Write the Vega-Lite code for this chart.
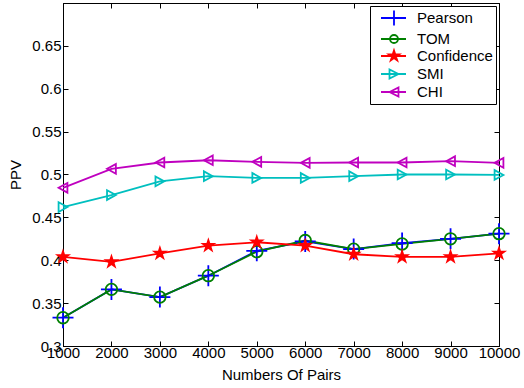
{
  "$schema": "https://vega.github.io/schema/vega-lite/v6.json",
  "width": 436,
  "height": 343,
  "autosize": {"type": "none"},
  "padding": {"left": 63, "top": 3, "right": 25, "bottom": 42},
  "config": {
    "font": "Liberation Sans",
    "view": {"stroke": "#000", "strokeWidth": 1},
    "axis": {"grid": false, "domainColor": "#000", "tickColor": "#000", "labelColor": "#000", "titleColor": "#000", "labelFont": "Liberation Sans", "titleFont": "Liberation Sans", "labelFontSize": 15, "titleFontSize": 15, "titleFontWeight": "normal", "tickSize": -5, "labelFlush": false, "labelOverlap": false},
    "legend": {"title": null, "orient": "top-right", "offset": 3, "strokeColor": "#000", "fillColor": "#fff", "padding": 3, "labelFontSize": 15, "labelFont": "Liberation Sans", "labelColor": "#000", "labelOffset": 26, "rowPadding": -1, "cornerRadius": 0, "symbolSize": 256, "symbolStrokeWidth": 1.8}
  },
  "data": {"values": [
    {"x": 1000, "series": "Pearson", "v": 0.333},
    {"x": 2000, "series": "Pearson", "v": 0.366},
    {"x": 3000, "series": "Pearson", "v": 0.357},
    {"x": 4000, "series": "Pearson", "v": 0.382},
    {"x": 5000, "series": "Pearson", "v": 0.411},
    {"x": 6000, "series": "Pearson", "v": 0.422},
    {"x": 7000, "series": "Pearson", "v": 0.413},
    {"x": 8000, "series": "Pearson", "v": 0.420},
    {"x": 9000, "series": "Pearson", "v": 0.425},
    {"x": 10000, "series": "Pearson", "v": 0.431},
    {"x": 1000, "series": "TOM", "v": 0.333},
    {"x": 2000, "series": "TOM", "v": 0.366},
    {"x": 3000, "series": "TOM", "v": 0.357},
    {"x": 4000, "series": "TOM", "v": 0.382},
    {"x": 5000, "series": "TOM", "v": 0.410},
    {"x": 6000, "series": "TOM", "v": 0.423},
    {"x": 7000, "series": "TOM", "v": 0.413},
    {"x": 8000, "series": "TOM", "v": 0.419},
    {"x": 9000, "series": "TOM", "v": 0.425},
    {"x": 10000, "series": "TOM", "v": 0.431},
    {"x": 1000, "series": "Confidence", "v": 0.404},
    {"x": 2000, "series": "Confidence", "v": 0.398},
    {"x": 3000, "series": "Confidence", "v": 0.408},
    {"x": 4000, "series": "Confidence", "v": 0.417},
    {"x": 5000, "series": "Confidence", "v": 0.421},
    {"x": 6000, "series": "Confidence", "v": 0.417},
    {"x": 7000, "series": "Confidence", "v": 0.407},
    {"x": 8000, "series": "Confidence", "v": 0.404},
    {"x": 9000, "series": "Confidence", "v": 0.404},
    {"x": 10000, "series": "Confidence", "v": 0.408},
    {"x": 1000, "series": "SMI", "v": 0.462},
    {"x": 2000, "series": "SMI", "v": 0.476},
    {"x": 3000, "series": "SMI", "v": 0.492},
    {"x": 4000, "series": "SMI", "v": 0.498},
    {"x": 5000, "series": "SMI", "v": 0.496},
    {"x": 6000, "series": "SMI", "v": 0.496},
    {"x": 7000, "series": "SMI", "v": 0.498},
    {"x": 8000, "series": "SMI", "v": 0.500},
    {"x": 9000, "series": "SMI", "v": 0.500},
    {"x": 10000, "series": "SMI", "v": 0.4995},
    {"x": 1000, "series": "CHI", "v": 0.4845},
    {"x": 2000, "series": "CHI", "v": 0.5066},
    {"x": 3000, "series": "CHI", "v": 0.514},
    {"x": 4000, "series": "CHI", "v": 0.5166},
    {"x": 5000, "series": "CHI", "v": 0.5148},
    {"x": 6000, "series": "CHI", "v": 0.5136},
    {"x": 7000, "series": "CHI", "v": 0.514},
    {"x": 8000, "series": "CHI", "v": 0.514},
    {"x": 9000, "series": "CHI", "v": 0.5155},
    {"x": 10000, "series": "CHI", "v": 0.5136}
  ]},
  "layer": [
    {
      "mark": {"type": "line", "strokeWidth": 1.8},
      "encoding": {
        "x": {"field": "x", "type": "quantitative", "scale": {"domain": [1000, 10000], "nice": false, "zero": false},
              "axis": {"orient": "bottom", "title": "Numbers Of Pairs", "values": [1000,2000,3000,4000,5000,6000,7000,8000,9000,10000], "format": "d", "labelPadding": 4, "titlePadding": 7}},
        "y": {"field": "v", "type": "quantitative", "scale": {"domain": [0.3, 0.7], "nice": false, "zero": false},
              "axis": {"orient": "left", "title": "PPV", "values": [0.3,0.35,0.4,0.45,0.5,0.55,0.6,0.65], "format": "~g", "labelPadding": 7, "titlePadding": 8}},
        "color": {"field": "series", "type": "nominal", "scale": {"domain": ["Pearson","TOM","Confidence","SMI","CHI"], "range": ["#0000ff","#008000","#ff0000","#00bfbf","#bf00bf"]}, "legend": null}
      }
    },
    {
      "mark": {"type": "point", "filled": false, "strokeWidth": 1.8, "size": 441, "opacity": 1},
      "encoding": {
        "x": {"field": "x", "type": "quantitative", "axis": null},
        "y": {"field": "v", "type": "quantitative", "axis": null},
        "color": {"field": "series", "type": "nominal", "scale": {"domain": ["Pearson","TOM","Confidence","SMI","CHI"], "range": ["#0000ff","#008000","#ff0000","#00bfbf","#bf00bf"]}, "legend": null},
        "fill": {"condition": {"test": "datum.series === 'Confidence'", "value": "#ff0000"}, "value": "transparent"},
        "shape": {"field": "series", "type": "nominal", "legend": null,
                  "scale": {"domain": ["Pearson","TOM","Confidence","SMI","CHI"],
                            "range": ["M-1,0L1,0M0,-1L0,1",
                                      "M-0.55,0A0.55,0.55 0 1,0 0.55,0A0.55,0.55 0 1,0 -0.55,0Z",
                                      "M0,-0.53L0.119,-0.164L0.504,-0.164L0.193,0.062L0.312,0.429L0,0.203L-0.312,0.429L-0.193,0.062L-0.504,-0.164L-0.119,-0.164Z",
                                      "M0.42,0L-0.42,-0.46L-0.42,0.46Z",
                                      "M-0.42,0L0.42,-0.46L0.42,0.46Z"]}}
      }
    },
    {
      "transform": [{"filter": "false"}],
      "mark": {"type": "point", "filled": false, "strokeWidth": 1.8, "opacity": 1},
      "encoding": {
        "x": {"field": "x", "type": "quantitative", "axis": null},
        "y": {"field": "v", "type": "quantitative", "axis": null},
        "color": {"field": "series", "type": "nominal", "scale": {"domain": ["Pearson","TOM","Confidence","SMI","CHI"], "range": ["#0000ff","#008000","#ff0000","#00bfbf","#bf00bf"]}, "legend": {"labelExpr": "datum.label + '\u00a0\u00a0'"}},
        "fill": {"field": "series", "type": "nominal", "scale": {"domain": ["Pearson","TOM","Confidence","SMI","CHI"], "range": ["transparent","transparent","#ff0000","transparent","transparent"]}, "legend": {"labelExpr": "datum.label + '\u00a0\u00a0'"}},
        "shape": {"field": "series", "type": "nominal", "legend": {"labelExpr": "datum.label + '\u00a0\u00a0'"},
                  "scale": {"domain": ["Pearson","TOM","Confidence","SMI","CHI"],
                            "range": ["M-0.125,0L3,0M1.5,-0.94L1.5,0.94",
                                      "M-0.125,0L3,0M1,0A0.5,0.5 0 1,0 2,0A0.5,0.5 0 1,0 1,0Z",
                                      "M-0.125,0L3,0M1.5,-0.69L1.655,-0.213L2.156,-0.213L1.751,0.082L1.906,0.558L1.5,0.264L1.094,0.558L1.249,0.082L0.844,-0.213L1.345,-0.213Z",
                                      "M-0.125,0L3,0M2.06,0L0.94,-0.56L0.94,0.56Z",
                                      "M-0.125,0L3,0M0.94,0L2.06,-0.56L2.06,0.56Z"]}}
      }
    },
    {
      "mark": {"type": "line", "strokeOpacity": 0},
      "encoding": {
        "x": {"field": "x", "type": "quantitative", "axis": {"orient": "top", "labels": false, "title": null, "values": [1000,2000,3000,4000,5000,6000,7000,8000,9000,10000]}},
        "y": {"field": "v", "type": "quantitative", "axis": {"orient": "right", "labels": false, "title": null, "values": [0.3,0.35,0.4,0.45,0.5,0.55,0.6,0.65]}},
        "detail": {"field": "series", "type": "nominal"}
      }
    }
  ],
  "resolve": {"axis": {"x": "independent", "y": "independent"}, "scale": {"color": "independent", "shape": "independent", "fill": "independent"}}
}
